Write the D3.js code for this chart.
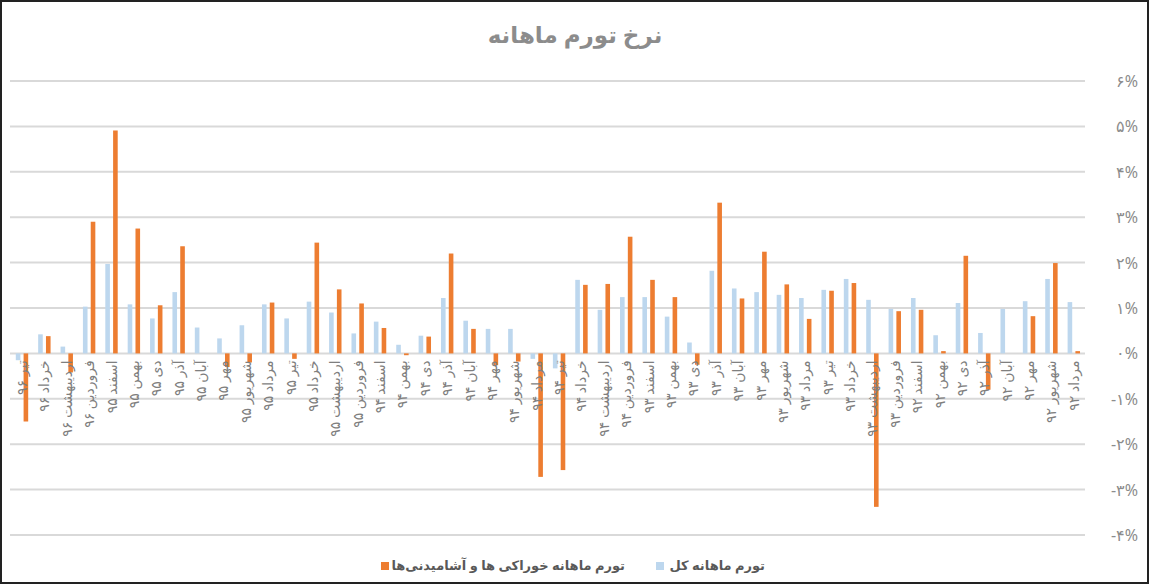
<!DOCTYPE html>
<html><head><meta charset="utf-8">
<script src="https://cdn.jsdelivr.net/npm/d3@7"></script>
<style>body{margin:0;background:#fff}svg{display:block}</style></head>
<body><svg id="c" width="1149" height="584"></svg>
<script>
const categories=["تیر ۹۶","خرداد ۹۶","اردیبهشت ۹۶","فروردین ۹۶","اسفند ۹۵","بهمن ۹۵","دی ۹۵","آذر ۹۵","آبان ۹۵","مهر ۹۵","شهریور ۹۵","مرداد ۹۵","تیر ۹۵","خرداد ۹۵","اردیبهشت ۹۵","فروردین ۹۵","اسفند ۹۴","بهمن ۹۴","دی ۹۴","آذر ۹۴","آبان ۹۴","مهر ۹۴","شهریور ۹۴","مرداد ۹۴","تیر ۹۴","خرداد ۹۴","اردیبهشت ۹۴","فروردین ۹۴","اسفند ۹۳","بهمن ۹۳","دی ۹۳","آذر ۹۳","آبان ۹۳","مهر ۹۳","شهریور ۹۳","مرداد ۹۳","تیر ۹۳","خرداد ۹۳","اردیبهشت ۹۳","فروردین ۹۳","اسفند ۹۲","بهمن ۹۲","دی ۹۲","آذر ۹۲","آبان ۹۲","مهر ۹۲","شهریور ۹۲","مرداد ۹۲"];
const totalInflation=[-0.15,0.42,0.15,1.03,1.97,1.08,0.77,1.35,0.57,0.33,0.62,1.08,0.77,1.14,0.9,0.44,0.7,0.19,0.39,1.22,0.72,0.54,0.54,-0.12,-0.33,1.62,0.96,1.24,1.24,0.81,0.24,1.82,1.43,1.35,1.29,1.22,1.4,1.64,1.18,0.98,1.22,0.4,1.11,0.45,0.98,1.15,1.64,1.13];
const foodInflation=[-1.5,0.38,-0.42,2.9,4.91,2.75,1.06,2.36,0,-0.3,-0.2,1.12,-0.12,2.44,1.41,1.1,0.56,-0.04,0.37,2.2,0.54,-0.26,-0.18,-2.72,-2.57,1.51,1.53,2.57,1.62,1.24,-0.25,3.32,1.21,2.24,1.52,0.76,1.38,1.55,-3.38,0.93,0.96,0.05,2.15,-0.8,0,0.82,1.99,0.05];
const yTicks=[-4,-3,-2,-1,0,1,2,3,4,5,6];
const seriesNames=["تورم ماهانه کل","تورم ماهانه خوراکی ها و آشامیدنی‌ها"];
const colors=["#bdd7ee","#ed7d31"];
const fa=n=>String(n).replace(/\d/g,d=>"۰۱۲۳۴۵۶۷۸۹"[d]);

const svg=d3.select("#c");
svg.append("rect").attr("x",1).attr("y",1).attr("width",1147).attr("height",582).attr("fill","#fff").attr("stroke","#222").attr("stroke-width",2);
const x=d3.scaleBand().domain(categories).range([10.8,1085]);
const y=d3.scaleLinear().domain([-4,6]).range([535,81]);
svg.append("g").selectAll("line").data(yTicks).join("line")
 .attr("x1",10).attr("x2",1085).attr("y1",d=>y(d)).attr("y2",d=>y(d))
 .attr("stroke","#d9d9d9").attr("stroke-width",2);
svg.append("g").selectAll("text").data(yTicks).join("text")
 .attr("x",1138).attr("y",d=>y(d)+6).attr("text-anchor","end").attr("direction","ltr")
 .attr("font-family","Noto Sans, DejaVu Sans").attr("font-size",16).attr("fill","#8c8c8c")
 .text(d=>(d<0?"-":"")+fa(Math.abs(d))+"%");
const bw=4.6;
[totalInflation,foodInflation].forEach((vals,s)=>{
 svg.append("g").selectAll("rect").data(vals).join("rect")
  .attr("x",(d,i)=>x(categories[i])+x.bandwidth()/2+(s===0?-6.2:1.6))
  .attr("width",bw)
  .attr("y",d=>y(Math.max(0,d))).attr("height",d=>Math.abs(y(d)-y(0)))
  .attr("fill",colors[s]);
});
svg.append("g").selectAll("text").data(categories).join("text")
 .attr("transform",d=>`translate(${x(d)+x.bandwidth()/2+5},${y(0)+7}) rotate(-90)`)
 .attr("text-anchor","start").attr("direction","rtl")
 .attr("font-family","Noto Sans, DejaVu Sans").attr("font-size",14).attr("fill","#7f7f7f")
 .text(d=>d);
svg.append("text").attr("x",575).attr("y",43).attr("text-anchor","middle").attr("direction","rtl")
 .attr("font-family","Noto Sans, DejaVu Sans").attr("font-weight","bold").attr("font-size",23).attr("fill","#8c8c8c")
 .text("نرخ تورم ماهانه");
svg.append("rect").attr("x",656).attr("y",562).attr("width",8).attr("height",8).attr("fill",colors[0]);
svg.append("rect").attr("x",381).attr("y",562).attr("width",8).attr("height",8).attr("fill",colors[1]);
svg.append("text").attr("x",765).attr("y",570).attr("text-anchor","start").attr("direction","rtl")
 .attr("font-family","Noto Sans, DejaVu Sans").attr("font-weight","bold").attr("font-size",13).attr("fill","#595959").text(seriesNames[0]);
svg.append("text").attr("x",625).attr("y",570).attr("text-anchor","start").attr("direction","rtl")
 .attr("font-family","Noto Sans, DejaVu Sans").attr("font-weight","bold").attr("font-size",13).attr("fill","#595959").text(seriesNames[1]);
</script></body></html>
